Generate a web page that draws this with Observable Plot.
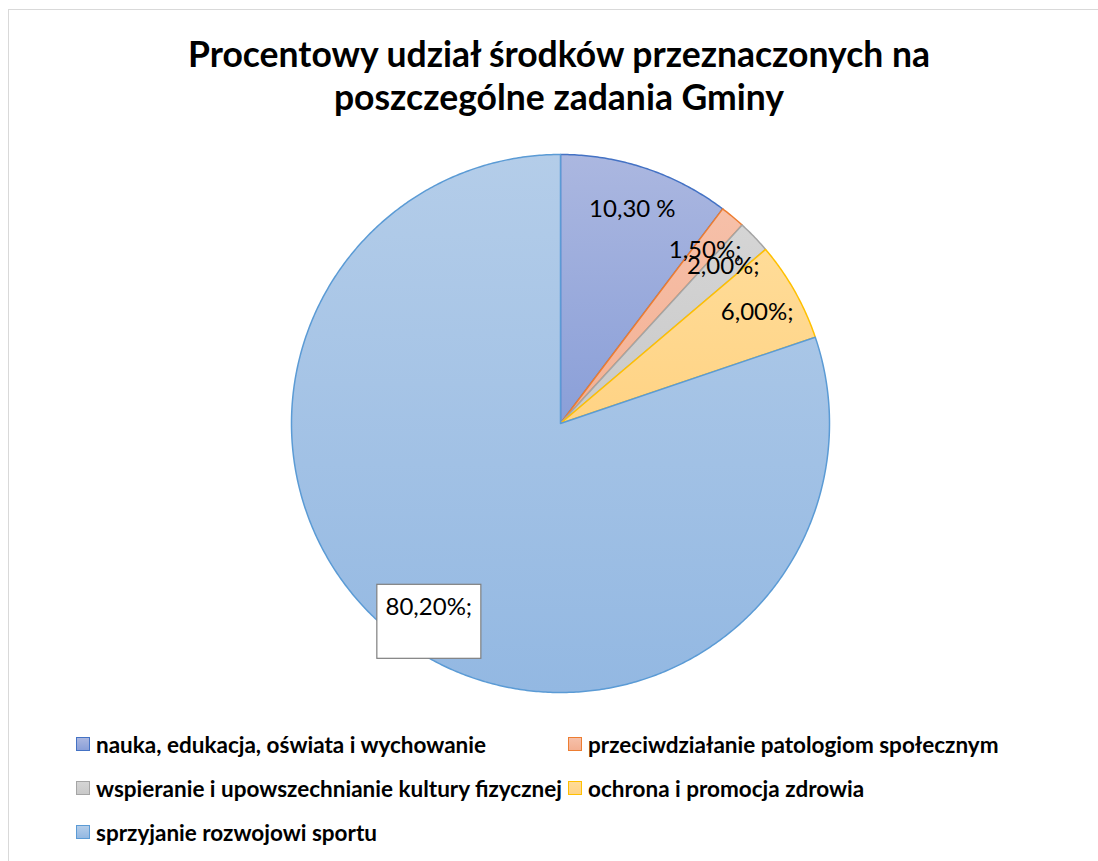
<!DOCTYPE html>
<html>
<head>
<meta charset="utf-8">
<script src="https://cdn.jsdelivr.net/npm/d3@7"></script>
<script src="https://cdn.jsdelivr.net/npm/@observablehq/plot@0.6"></script>
<style>
  body { margin: 0; background: #fff; }
  #wrap { position: relative; width: 1098px; height: 861px; overflow: hidden; background: #fff; font-family: Lato, "Open Sans", sans-serif; }
  #frame { position: absolute; left: 8px; top: 9px; width: 1300px; height: 1000px; border-left: 1.5px solid #d9d9d9; border-top: 1.5px solid #d9d9d9; }
  #title { position: absolute; left: 0; top: 32px; width: 1118px; text-align: center; font-weight: 700; font-size: 35.5px; line-height: 43px; color: #000; }
  #chart { position: absolute; left: 0; top: 140px; }
  #legend { position: absolute; left: 76px; top: 722px; display: grid; grid-template-columns: 492px 460px; row-gap: 0; }
  .item { display: flex; align-items: center; height: 44px; font-weight: 700; font-size: 22.5px; color: #000; white-space: nowrap; }
  .sw { width: 12px; height: 12px; margin-right: 6px; box-sizing: content-box; }
</style>
</head>
<body>
<div id="wrap">
  <div id="frame"></div>
  <div id="title">Procentowy udział środków przeznaczonych na<br>poszczególne zadania Gminy</div>
  <div id="chart"></div>
  <div id="legend"></div>
</div>
<script>
// ---- data ----
const categories = [
  "nauka, edukacja, oświata i wychowanie",
  "przeciwdziałanie patologiom społecznym",
  "wspieranie i upowszechnianie kultury fizycznej",
  "ochrona i promocja zdrowia",
  "sprzyjanie rozwojowi sportu"
];
const values = [10.3, 1.5, 2.0, 6.0, 80.2];
const labels = ["10,30 %", "1,50%;", "2,00%;", "6,00%;", "80,20%;"];
const fillTop = ["#abb7e0", "#f6c0a9", "#d5d5d5", "#ffdc98", "#b4cde9"];
const fillBottom = ["#8a9fd8", "#f3b093", "#c9c9c9", "#ffd384", "#93b8e2"];
const borderColors = ["#4472c4", "#ed7d31", "#a5a5a5", "#ffc000", "#5b9bd5"];

// ---- geometry derived from the values ----
const total = d3.sum(values);
const slices = [];
let acc = 0;
values.forEach((v, i) => {
  const a0 = acc / total * 2 * Math.PI;
  acc += v;
  const a1 = acc / total * 2 * Math.PI;
  const n = Math.max(2, Math.ceil((a1 - a0) / (Math.PI / 360)));
  const pts = [{x: 0, y: 0}];
  for (let k = 0; k <= n; k++) {
    const a = a0 + (a1 - a0) * k / n;
    pts.push({x: Math.sin(a), y: Math.cos(a)});
  }
  slices.push({i, a0, a1, mid: (a0 + a1) / 2, pts});
});
const labelR = 0.84;
const labelData = slices.map(s => ({
  label: labels[s.i],
  x: labelR * Math.sin(s.mid),
  y: labelR * Math.cos(s.mid)
}));

const marks = slices.map(s => Plot.line(s.pts, {
  x: "x", y: "y",
  curve: "linear-closed",
  fill: `url(#grad${s.i})`,
  stroke: borderColors[s.i],
  strokeWidth: 1.5,
  strokeLinejoin: "round"
}));
marks.push(Plot.text(labelData, {
  x: "x", y: "y", text: "label",
  fontSize: 24, fill: "#000",
  fontFamily: "Lato, 'Open Sans', sans-serif",
  textAnchor: "middle", lineAnchor: "middle"
}));

const plot = Plot.plot({
  width: 1098,
  height: 572,
  marginLeft: 291,
  marginRight: 269,
  marginTop: 14,
  marginBottom: 20,
  x: {domain: [-1, 1], axis: null},
  y: {domain: [-1, 1], axis: null},
  style: {background: "transparent", overflow: "visible"},
  marks
});
document.getElementById("chart").appendChild(plot);

// gradient definitions
const svg = d3.select(plot);
const defs = svg.insert("defs", ":first-child");
slices.forEach(s => {
  const g = defs.append("linearGradient")
    .attr("id", `grad${s.i}`)
    .attr("x1", 0).attr("y1", 0).attr("x2", 0).attr("y2", 1);
  g.append("stop").attr("offset", "0%").attr("stop-color", fillTop[s.i]);
  g.append("stop").attr("offset", "100%").attr("stop-color", fillBottom[s.i]);
});

// white box around the largest slice's label
const texts = svg.selectAll("g[aria-label='text'] text").nodes();
const big = texts[texts.length - 1];
const bb = big.getBBox();
const cx = bb.x + bb.width / 2, cy = bb.y + bb.height / 2;
const rect = d3.select(big.parentNode).insert("rect", () => big)
  .attr("x", cx - 52).attr("y", cy - 21)
  .attr("width", 104).attr("height", 74)
  .attr("fill", "#fff").attr("stroke", "#7f7f7f").attr("stroke-width", 1.2);
if (big.getAttribute("transform")) rect.attr("transform", big.getAttribute("transform"));

// legend
const legend = d3.select("#legend");
categories.forEach((c, i) => {
  const item = legend.append("div").attr("class", "item");
  item.append("div").attr("class", "sw")
    .style("background", `linear-gradient(${fillTop[i]}, ${fillBottom[i]})`)
    .style("border", `1.5px solid ${borderColors[i]}`);
  item.append("span").text(c);
});
</script>
</body>
</html>
